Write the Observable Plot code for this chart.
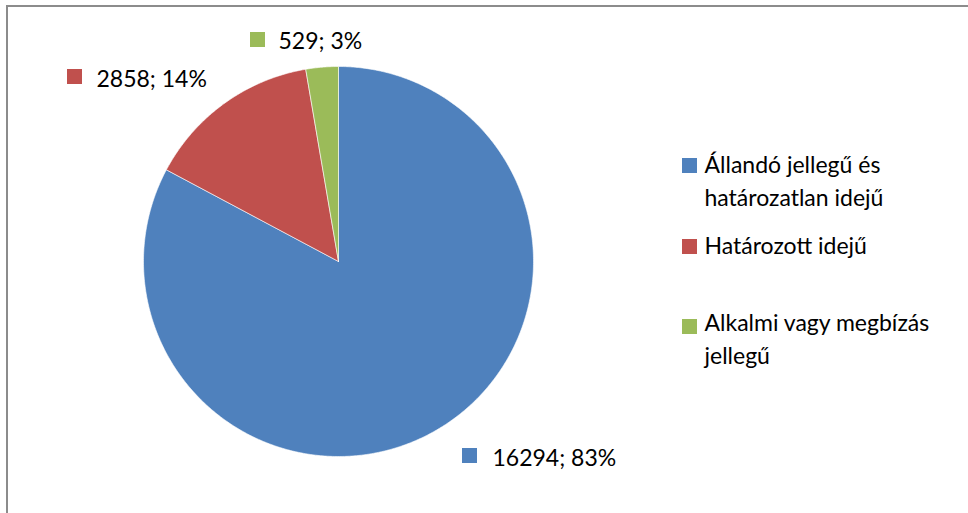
<!DOCTYPE html>
<html><head><meta charset="utf-8">
<script src="https://cdn.jsdelivr.net/npm/d3@7"></script>
<script src="https://cdn.jsdelivr.net/npm/@observablehq/plot@0.6"></script>
<style>
html,body{margin:0;padding:0;background:#fff;overflow:hidden;width:968px;height:513px}
#wrap{position:relative;width:968px;height:513px;overflow:hidden}
#border{position:absolute;left:6px;top:5px;width:1200px;height:1200px;border:2px solid #8c8c8c;box-sizing:border-box;pointer-events:none}
#chart{position:absolute;left:0;top:0}
</style></head><body><div id="wrap"><div id="chart"></div><div id="border"></div></div>
<script>
// ---- data ----
const categories = ["Állandó jellegű és határozatlan idejű", "Határozott idejű", "Alkalmi vagy megbízás jellegű"];
const legendLabels = ["Állandó jellegű és\nhatározatlan idejű", "Határozott idejű", "Alkalmi vagy megbízás\njellegű"];
const values = [16294, 2858, 529];
const percents = [83, 14, 3];
const colors = ["#4F81BD", "#C0504D", "#9BBB59"];

// ---- layout (pixels) ----
const W = 968, H = 513;
const cx = 338, cy = 261, R = 195;
const FS = 23;
const SQ = 15;
const dataLabelLayout = [
  {sqX: 462, sqY: 448, tx: 492, base: 465},
  {sqX: 67, sqY: 69, tx: 96, base: 86},
  {sqX: 250, sqY: 32, tx: 278, base: 48}
];
const legendLayout = {sqX: 682, tx: 704, sqY: [158, 239, 319], base: [205, 253, 363]};

// ---- build slice polygons ----
const arcs = d3.pie().sort(null).startAngle(0).endAngle(2 * Math.PI)(values);
const slicePts = [];
arcs.forEach((a, i) => {
  const cat = categories[i];
  slicePts.push({cat, x: cx, y: cy});
  const n = Math.max(2, Math.ceil((a.endAngle - a.startAngle) / (Math.PI / 360)));
  for (let k = 0; k <= n; k++) {
    const t = a.startAngle + (a.endAngle - a.startAngle) * k / n;
    slicePts.push({cat, x: cx + R * Math.sin(t), y: cy - R * Math.cos(t)});
  }
  slicePts.push({cat, x: cx, y: cy});
});

const dataLabels = categories.map((c, i) => ({
  cat: c,
  text: `${values[i]}; ${percents[i]}%`,
  ...dataLabelLayout[i]
}));
const legendItems = categories.map((c, i) => ({
  cat: c,
  text: legendLabels[i],
  sqX: legendLayout.sqX, sqY: legendLayout.sqY[i],
  tx: legendLayout.tx, base: legendLayout.base[i]
}));

const font = "Lato, 'Open Sans', sans-serif";

const chart = Plot.plot({
  width: W, height: H,
  marginTop: 0, marginRight: 0, marginBottom: 0, marginLeft: 0,
  x: {domain: [0, W], range: [0, W], axis: null},
  y: {domain: [0, H], range: [0, H], axis: null},
  color: {type: "ordinal", domain: categories, range: colors},
  style: {background: "transparent", fontFamily: font},
  marks: [
    Plot.line(slicePts, {x: "x", y: "y", z: "cat", fill: "cat", stroke: "white", strokeWidth: 0.7, strokeOpacity: 0.85}),
    Plot.rect(dataLabels, {x1: "sqX", x2: d => d.sqX + SQ, y1: "sqY", y2: d => d.sqY + SQ, fill: "cat"}),
    Plot.text(dataLabels, {x: "tx", y: "base", text: "text", textAnchor: "start", lineAnchor: "bottom", fontSize: FS, fill: "#000", fontFamily: font}),
    Plot.rect(legendItems, {x1: "sqX", x2: d => d.sqX + SQ, y1: "sqY", y2: d => d.sqY + SQ, fill: "cat"}),
    Plot.text(legendItems, {x: "tx", y: "base", text: "text", textAnchor: "start", lineAnchor: "bottom", lineHeight: 1.4, fontSize: FS, fill: "#000", fontFamily: font})
  ]
});
document.getElementById("chart").appendChild(chart);
</script>
</body></html>
